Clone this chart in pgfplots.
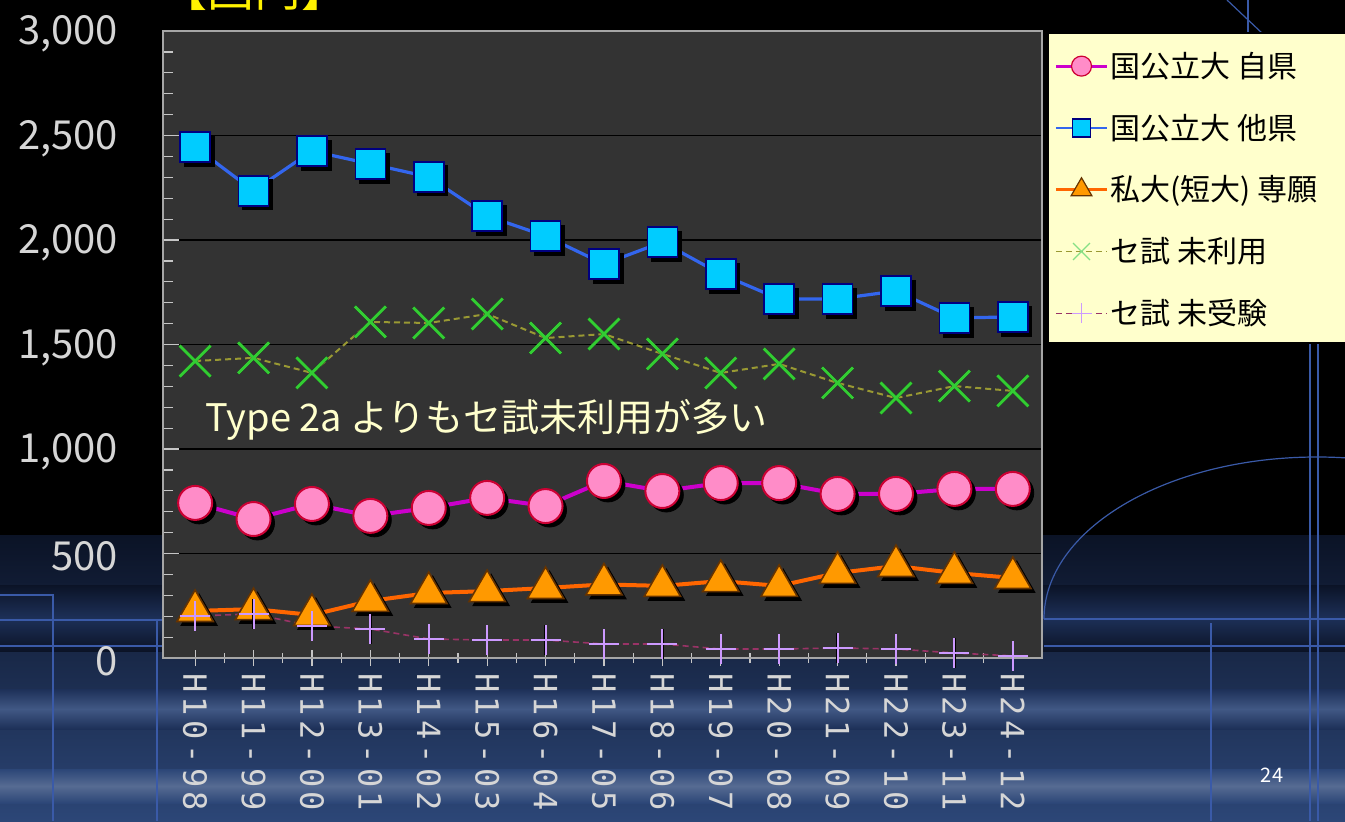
\documentclass[border=0pt]{standalone}
\usepackage{fontspec}
\setmainfont{Noto Sans CJK JP}
\newfontfamily\tickmono[LetterSpace=14]{DejaVu Sans Mono}
\usepackage{pgfplots}
\usepackage{pgfplotstable}
\pgfplotsset{compat=1.18}

\definecolor{plotbg}{HTML}{333333}
\definecolor{ticktxt}{HTML}{D6D6D6}
\definecolor{deco}{HTML}{3A5AA8}
\definecolor{navyA}{HTML}{0B1326}
\definecolor{navyB}{HTML}{1D3058}
\definecolor{navyC}{HTML}{2C4677}
\definecolor{legbg}{HTML}{FFFFCC}
\definecolor{annot}{HTML}{FFFFCC}
\definecolor{pinkline}{HTML}{CC00CC}
\definecolor{pinkfill}{HTML}{FF8CC8}
\definecolor{pinkedge}{HTML}{CC0033}
\definecolor{blueline}{HTML}{3366EE}
\definecolor{bluefill}{HTML}{00CCFF}
\definecolor{blueedge}{HTML}{000080}
\definecolor{orline}{HTML}{FF6600}
\definecolor{orfill}{HTML}{FF9900}
\definecolor{oredge}{HTML}{663300}
\definecolor{grline}{HTML}{999933}
\definecolor{grmark}{HTML}{33CC33}
\definecolor{puline}{HTML}{993366}
\definecolor{pumark}{HTML}{CC99FF}

% values (one row per year)
\pgfplotstableread{
x pink blue orange green purple
0 742 2445 225 1421 201
1 665 2235 234 1436 211
2 737 2426 206 1364 153
3 680 2364 273 1608 139
4 718 2302 311 1603 91
5 766 2115 320 1646 86
6 727 2019 335 1531 86
7 847 1885 352 1550 67
8 799 1990 345 1455 67
9 837 1837 368 1364 43
10 837 1718 345 1407 43
11 785 1718 407 1316 48
12 785 1756 440 1244 43
13 809 1627 407 1301 24
14 809 1632 383 1278 10
}\datatable

\pgfplotsset{
  shadow/.style={only marks, forget plot,
    mark options={draw=black, fill=black, solid, xshift=2pt, yshift=-2pt}},
}

\begin{document}
\begin{tikzpicture}
\useasboundingbox (0,0) rectangle (672.5pt,410.5pt);
\clip (0,0) rectangle (672.5pt,410.5pt);
% slide background, in pixels of the 1345x821 slide (y up)
\begin{scope}[x=0.5pt,y=0.5pt]
  \fill[black] (0,0) rectangle (1345,821);
  \shade[top color=navyA, bottom color=navyC] (0,0) rectangle (1345,286);
  \shade[top color=navyA, bottom color=navyA, middle color=navyB] (0,170) rectangle (1345,236);
  \shade[top color=navyB, bottom color=navyB, middle color=navyC!90!white] (0,92) rectangle (1345,132);
  \shade[top color=navyC, bottom color=navyC, middle color=navyC!80!white] (0,18) rectangle (1345,52);
  \begin{scope}[draw=deco, line width=0.6pt]
    \draw (0,226) -- (53,226) -- (53,0);
    \draw (0,201) -- (165,201);
    \draw (157,201) -- (157,0);
    \draw (0,175) -- (165,175);
    \draw (1044,202) -- (1345,202);
    \draw (1044,175) -- (1345,175);
    \draw (1211,198) -- (1211,0);
    \draw (1310,478) -- (1310,0);
    \draw (1318,478) -- (1318,0);
    \draw (1248,821) -- (1248,780);
    \draw (1227,821) -- (1263,787);
    \draw (1044,202) arc[start angle=180, end angle=40, x radius=273, y radius=162];
  \end{scope}
  % legend box (runs off the right edge)
  \fill[legbg, draw=black, line width=1pt] (1048,478) rectangle (1370,788);
  \node[anchor=base west, text=yellow, font=\fontsize{23.5}{26}\selectfont, inner sep=0pt]
    at (160,814) {【国内】};
  \node[text=white, font=\fontsize{10}{12}\selectfont] at (1272,46) {24};
\end{scope}

\begin{axis}[
    at={(81.5pt,81.5pt)}, anchor=south west,
    scale only axis,
    width=439.5pt, height=313.5pt,
    xmin=-0.55, xmax=14.5,
    ymin=0, ymax=3000,
    clip=false,
    axis background/.style={fill=plotbg},
    axis line style={draw=gray!70, line width=1pt},
    xtick={0,...,14},
    xticklabels={H10-98,H11-99,H12-00,H13-01,H14-02,H15-03,H16-04,H17-05,H18-06,H19-07,H20-08,H21-09,H22-10,H23-11,H24-12},
    minor x tick num=1,
    xtick align=center,
    xtick pos=bottom,
    ytick={0,500,...,3000},
    minor y tick num=4,
    ytick align=inside,
    ytick pos=left,
    major tick length=8pt,
    minor tick length=5pt,
    every tick/.style={draw=gray!45, line width=0.6pt},
    ymajorgrids,
    major grid style={draw=black, line width=0.7pt},
    /pgf/number format/assume math mode=true,
    /pgf/number format/1000 sep={,},
    yticklabel style={font=\fontsize{20}{24}\selectfont, text=ticktxt, xshift=-19pt, yshift=-1.5pt},
    xticklabel style={rotate=-90, anchor=west, font=\tickmono\fontsize{16}{16}\selectfont, text=ticktxt},
    legend style={at={(axis description cs:1,1)}, anchor=north west,
      xshift=3pt, yshift=-7.3pt, draw=none, fill=none,
      font=\fontsize{15}{17}\selectfont, text=black,
      row sep=14.8pt, nodes={inner sep=1pt}},
    legend cell align=left,
    legend image code/.code={\draw[mark repeat=2, mark phase=2, #1]
      plot coordinates {(0cm,0cm) (0.45cm,0cm) (0.9cm,0cm)};},
]
% legend samples
\addlegendimage{pinkline, line width=1.5pt, mark=*, mark size=5pt,
  mark options={solid, fill=pinkfill, draw=pinkedge, line width=0.6pt}}
\addlegendentry{国公立大 自県}
\addlegendimage{blueline, line width=1.2pt, mark=square*, mark size=4.5pt,
  mark options={solid, fill=bluefill, draw=blueedge, line width=0.6pt}}
\addlegendentry{国公立大 他県}
\addlegendimage{orline, line width=1.5pt, mark=triangle*, mark size=6pt,
  mark options={solid, fill=orfill, draw=oredge, line width=0.6pt}}
\addlegendentry{私大(短大) 専願}
\addlegendimage{grline, densely dashed, line width=0.8pt, mark=x, mark size=6pt,
  mark options={solid, draw=grmark!60!white, line width=0.6pt}}
\addlegendentry{セ試 未利用}
\addlegendimage{puline, densely dashed, line width=0.7pt, mark=+, mark size=5pt,
  mark options={solid, draw=pumark, line width=0.6pt}}
\addlegendentry{セ試 未受験}

\node[anchor=west, text=annot, font=\fontsize{19}{22}\selectfont, inner sep=0pt]
  at (axis cs:0.17,1140) {Type 2a よりもセ試未利用が多い};

% pink: 国公立大 自県
\addplot[shadow, mark=*, mark size=8.5pt] table[x=x, y=pink] {\datatable};
\addplot[pinkline, line width=2pt, forget plot, mark=*, mark size=8.5pt,
  mark options={solid, fill=pinkfill, draw=pinkedge, line width=1pt}]
  table[x=x, y=pink] {\datatable};
% blue: 国公立大 他県
\addplot[shadow, mark=square*, mark size=7.5pt] table[x=x, y=blue] {\datatable};
\addplot[blueline, line width=1.6pt, forget plot, mark=square*, mark size=7.5pt,
  mark options={solid, fill=bluefill, draw=blueedge, line width=0.8pt}]
  table[x=x, y=blue] {\datatable};
% orange: 私大(短大) 専願
\addplot[shadow, mark=triangle*, mark size=10.5pt] table[x=x, y=orange] {\datatable};
\addplot[orline, line width=2pt, forget plot, mark=triangle*, mark size=10.5pt,
  mark options={solid, fill=orfill, draw=oredge, line width=0.8pt}]
  table[x=x, y=orange] {\datatable};
% green: セ試 未利用
\addplot[shadow, mark=x, mark size=11pt, mark options={line width=1.5pt}] table[x=x, y=green] {\datatable};
\addplot[grline, densely dashed, line width=1pt, forget plot, mark=x, mark size=11pt,
  mark options={solid, draw=grmark, line width=1.5pt}]
  table[x=x, y=green] {\datatable};
% purple: セ試 未受験
\addplot[shadow, mark=+, mark size=7.5pt, mark options={line width=1.2pt}] table[x=x, y=purple] {\datatable};
\addplot[puline, densely dashed, line width=0.8pt, forget plot, mark=+, mark size=7.5pt,
  mark options={solid, draw=pumark, line width=1pt}]
  table[x=x, y=purple] {\datatable};
\end{axis}
\end{tikzpicture}
\end{document}
